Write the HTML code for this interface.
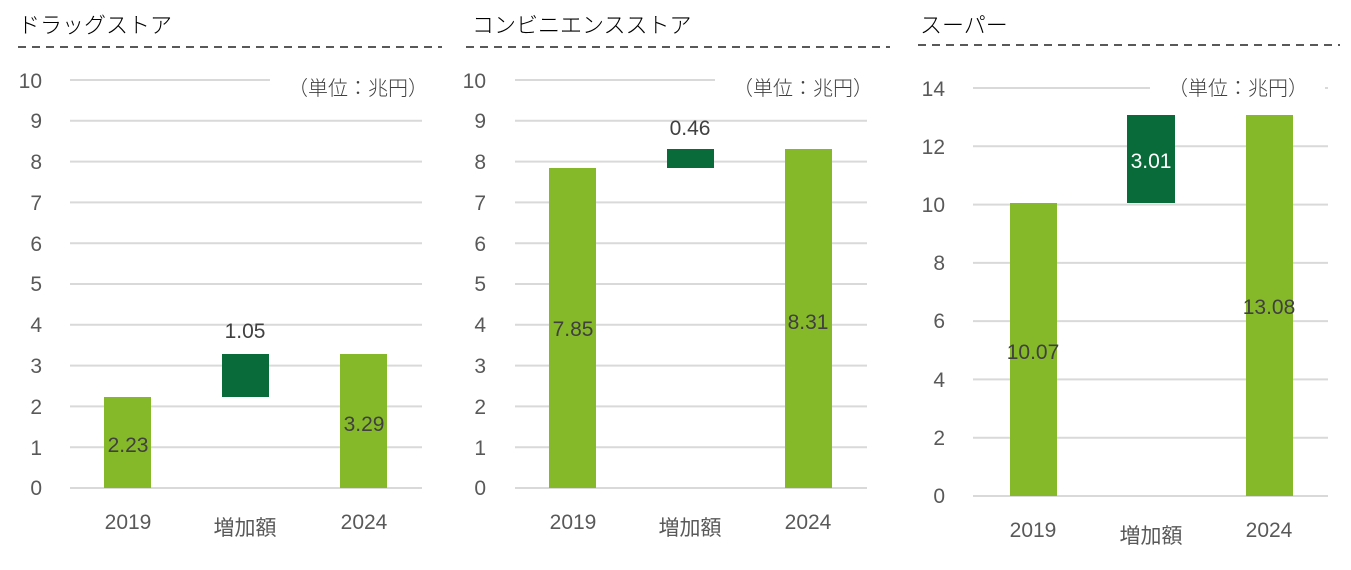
<!DOCTYPE html>
<html><head><meta charset="utf-8"><style>
html,body{margin:0;padding:0;background:#fff;}
svg{display:block;font-family:"Liberation Sans","Noto Sans CJK JP",sans-serif;}
.t{font-size:21px;fill:#595959;text-anchor:end;}
.x{font-size:21px;fill:#595959;text-anchor:middle;}
.d{font-size:21px;fill:#404040;text-anchor:middle;}
.h{font-size:22px;fill:#000;font-weight:300;}
.u{font-size:20px;fill:#404040;font-weight:300;}
.g{stroke:#d9d9d9;stroke-width:2;}
.ds{stroke:#595959;stroke-width:2;stroke-dasharray:8,6;}
</style></head><body>
<svg width="1351" height="570" viewBox="0 0 1351 570">
<!-- Chart 1 -->
<text class="h" x="18" y="33">ドラッグストア</text>
<line class="ds" x1="18" y1="47" x2="442" y2="47"/>
<g class="g">
<line x1="70" y1="80" x2="270" y2="80"/>
<line x1="70" y1="120.8" x2="422" y2="120.8"/>
<line x1="70" y1="161.6" x2="422" y2="161.6"/>
<line x1="70" y1="202.4" x2="422" y2="202.4"/>
<line x1="70" y1="243.2" x2="422" y2="243.2"/>
<line x1="70" y1="284" x2="422" y2="284"/>
<line x1="70" y1="324.8" x2="422" y2="324.8"/>
<line x1="70" y1="365.6" x2="422" y2="365.6"/>
<line x1="70" y1="406.4" x2="422" y2="406.4"/>
<line x1="70" y1="447.2" x2="422" y2="447.2"/>
<line x1="70" y1="488" x2="422" y2="488"/>
</g>
<g class="t">
<text x="42" y="88">10</text><text x="42" y="128">9</text><text x="42" y="169">8</text><text x="42" y="210">7</text><text x="42" y="251">6</text><text x="42" y="291">5</text><text x="42" y="332">4</text><text x="42" y="373">3</text><text x="42" y="414">2</text><text x="42" y="455">1</text><text x="42" y="495">0</text>
</g>
<text class="u" x="288" y="95">（単位：兆円）</text>
<rect x="104" y="397" width="47" height="91" fill="#86b92a"/>
<rect x="222" y="354" width="47" height="43" fill="#0a6b3a"/>
<rect x="340" y="354" width="47" height="134" fill="#86b92a"/>
<text class="d" x="128" y="452">2.23</text>
<text class="d" x="245" y="338">1.05</text>
<text class="d" x="364" y="431">3.29</text>
<text class="x" x="128" y="529">2019</text>
<text class="x" x="245" y="535">増加額</text>
<text class="x" x="364" y="529">2024</text>

<!-- Chart 2 -->
<text class="h" x="472" y="33">コンビニエンスストア</text>
<line class="ds" x1="466" y1="47" x2="890" y2="47"/>
<g class="g">
<line x1="515" y1="80" x2="715" y2="80"/>
<line x1="515" y1="120.8" x2="867" y2="120.8"/>
<line x1="515" y1="161.6" x2="867" y2="161.6"/>
<line x1="515" y1="202.4" x2="867" y2="202.4"/>
<line x1="515" y1="243.2" x2="867" y2="243.2"/>
<line x1="515" y1="284" x2="867" y2="284"/>
<line x1="515" y1="324.8" x2="867" y2="324.8"/>
<line x1="515" y1="365.6" x2="867" y2="365.6"/>
<line x1="515" y1="406.4" x2="867" y2="406.4"/>
<line x1="515" y1="447.2" x2="867" y2="447.2"/>
<line x1="515" y1="488" x2="867" y2="488"/>
</g>
<g class="t">
<text x="486" y="88">10</text><text x="486" y="128">9</text><text x="486" y="169">8</text><text x="486" y="210">7</text><text x="486" y="251">6</text><text x="486" y="291">5</text><text x="486" y="332">4</text><text x="486" y="373">3</text><text x="486" y="414">2</text><text x="486" y="455">1</text><text x="486" y="495">0</text>
</g>
<text class="u" x="733" y="95">（単位：兆円）</text>
<rect x="549" y="168" width="47" height="320" fill="#86b92a"/>
<rect x="667" y="149" width="47" height="19" fill="#0a6b3a"/>
<rect x="785" y="149" width="47" height="339" fill="#86b92a"/>
<text class="d" x="573" y="336">7.85</text>
<text class="d" x="690" y="135">0.46</text>
<text class="d" x="808" y="329">8.31</text>
<text class="x" x="573" y="529">2019</text>
<text class="x" x="690" y="535">増加額</text>
<text class="x" x="808" y="529">2024</text>

<!-- Chart 3 -->
<text class="h" x="920" y="33">スーパー</text>
<line class="ds" x1="918" y1="45" x2="1340" y2="45"/>
<g class="g">
<line x1="973" y1="88" x2="1150" y2="88"/>
<line x1="1325" y1="88" x2="1328" y2="88"/>
<line x1="973" y1="146.3" x2="1328" y2="146.3"/>
<line x1="973" y1="204.6" x2="1328" y2="204.6"/>
<line x1="973" y1="262.9" x2="1328" y2="262.9"/>
<line x1="973" y1="321.1" x2="1328" y2="321.1"/>
<line x1="973" y1="379.4" x2="1328" y2="379.4"/>
<line x1="973" y1="437.7" x2="1328" y2="437.7"/>
<line x1="973" y1="496" x2="1328" y2="496"/>
</g>
<g class="t">
<text x="945" y="96">14</text><text x="945" y="154">12</text><text x="945" y="212">10</text><text x="945" y="270">8</text><text x="945" y="328">6</text><text x="945" y="387">4</text><text x="945" y="445">2</text><text x="945" y="503">0</text>
</g>
<text class="u" x="1168" y="95">（単位：兆円）</text>
<rect x="1010" y="203" width="47" height="293" fill="#86b92a"/>
<rect x="1127" y="115" width="48" height="88" fill="#0a6b3a"/>
<rect x="1246" y="115" width="47" height="381" fill="#86b92a"/>
<text class="d" x="1033" y="359">10.07</text>
<text class="d" x="1151" y="168" style="fill:#fff">3.01</text>
<text class="d" x="1269" y="314">13.08</text>
<text class="x" x="1033" y="537">2019</text>
<text class="x" x="1151" y="543">増加額</text>
<text class="x" x="1269" y="537">2024</text>
</svg>
</body></html>
